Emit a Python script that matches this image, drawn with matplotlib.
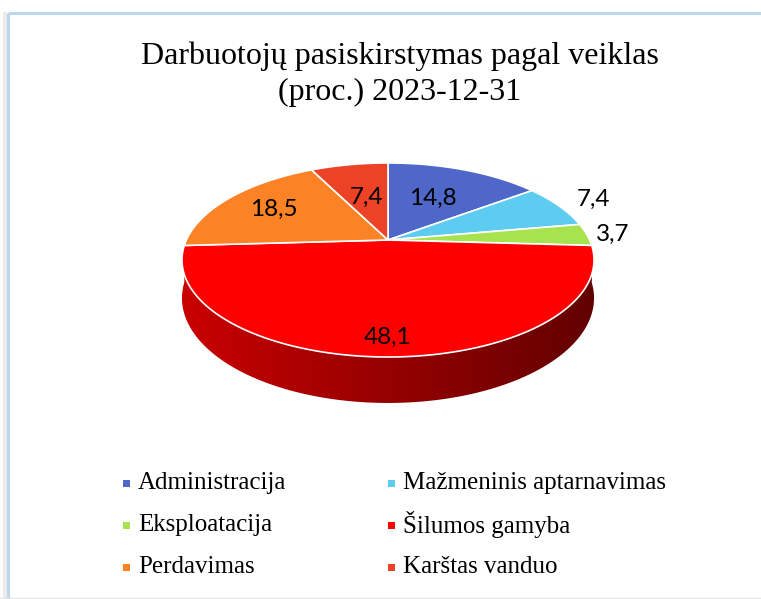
import numpy as np
import matplotlib.pyplot as plt
from matplotlib.patches import Polygon, Rectangle
from matplotlib.colors import to_rgb

# Data
labels = ['Administracija', 'Mažmeninis aptarnavimas', 'Eksploatacija',
          'Šilumos gamyba', 'Perdavimas', 'Karštas vanduo']
values = [14.8, 7.4, 3.7, 48.1, 18.5, 7.4]
colors = ['#4e67c8', '#5ecbf0', '#a6e34e', '#fe0000', '#fc8226', '#ec4226']
title = 'Darbuotojų pasiskirstymas pagal veiklas\n(proc.) 2023-12-31'

# layout of the pseudo-3D pie (pixel space)
cx, cy = 388, 240
A, B, p, H = 201.6, 92.9, 0.206, 36.5
label_r = [0.55, 1.22, 1.13, 0.86, 0.7, 0.52]


def proj(r, th, drop=0.0):
    s, c = np.sin(th), np.cos(th)
    den = 1 + p * r * s
    return cx + A * r * c / den, cy - (B * r * s - drop) / den


fig = plt.figure(figsize=(7.61, 5.99), dpi=100)
ax = fig.add_axes([0, 0, 1, 1])

# frame
ax.add_patch(Rectangle((3, 12), 4, 600, color='#ececec', lw=0, zorder=0))
ax.add_patch(Rectangle((7.5, 12.5), 800, 600, fill=False, ec='#bdd7ee', lw=2.2, zorder=1))
ax.plot([0, 761], [597.5, 597.5], color='#e4e4e4', lw=1, zorder=1)

total = sum(values)
bounds = np.concatenate([[0], np.cumsum(values)]) / total
starts = np.pi / 2 - bounds[:-1] * 2 * np.pi
ends = np.pi / 2 - bounds[1:] * 2 * np.pi

# side walls, shaded left (light) to right (dark)
xs = np.linspace(cx - A * 1.05, cx + A * 1.05, 300)
shade = 0.59 + 0.21 * (cx - xs) / (A * 1.05)
for st, en, col in zip(starts, ends, colors):
    th = np.linspace(st, en, 200)
    top = [proj(1, t) for t in th]
    bot = [proj(1, t, H) for t in th[::-1]]
    side = Polygon(top + bot, closed=True, fc='none', ec='none', zorder=2)
    ax.add_patch(side)
    rgb = np.array(to_rgb(col))
    img = shade[None, :, None] * rgb[None, None, :]
    im = ax.imshow(img, extent=(xs[0], xs[-1], cy + B * 2, cy - B * 2),
                   aspect='auto', interpolation='bilinear', zorder=2)
    im.set_clip_path(side)

# top faces
for st, en, col in zip(starts, ends, colors):
    th = np.linspace(st, en, 200)
    pts = [proj(0, 0)] + [proj(1, t) for t in th]
    ax.add_patch(Polygon(pts, closed=True, fc=col, ec='white', lw=1.2, zorder=3))

# data labels
for st, en, v, r in zip(starts, ends, values, label_r):
    x, y = proj(r, (st + en) / 2)
    ax.text(x, y, f'{v:.1f}'.replace('.', ','), ha='center', va='center',
            fontsize=17.5, family='Lato', color='black', zorder=5)

ax.text(400, 74, title, ha='center', va='center', fontsize=23,
        family='Liberation Serif', linespacing=1.3)

# legend
for i, (lab, col) in enumerate(zip(labels, colors)):
    x0 = 126 + 265 * (i % 2)
    y0 = 483 + 42 * (i // 2)
    ax.add_patch(Rectangle((x0 - 3.5, y0 - 3.5), 7, 7, color=col, lw=0, zorder=5))
    ax.text(x0 + 12, y0, lab, ha='left', va='center', fontsize=18,
            family='Liberation Serif')

ax.set_xlim(0, 761)
ax.set_ylim(599, 0)
ax.axis('off')
fig.savefig('out.png', dpi=100)
